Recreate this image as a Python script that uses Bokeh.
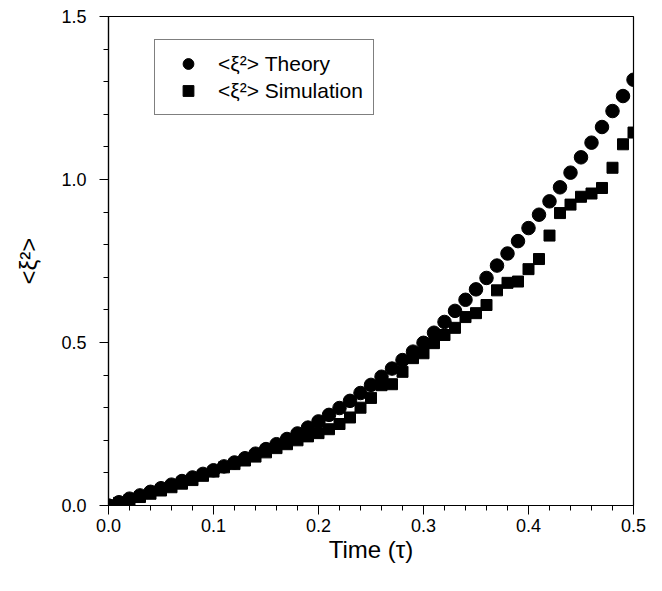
from bokeh.plotting import figure
from bokeh.models import Legend, LegendItem, PrintfTickFormatter, SingleIntervalTicker, Range1d
from bokeh.embed import file_html
from bokeh.resources import INLINE

tau = [round(0.01 * i, 2) for i in range(51)]

theory = [0.000, 0.010, 0.021, 0.031, 0.042, 0.053, 0.064, 0.075, 0.086, 0.097,
          0.108, 0.120, 0.132, 0.145, 0.159, 0.173, 0.188, 0.204, 0.221, 0.239,
          0.258, 0.278, 0.299, 0.321, 0.345, 0.370, 0.395, 0.420, 0.446, 0.472,
          0.499, 0.530, 0.563, 0.597, 0.631, 0.663, 0.698, 0.736, 0.773, 0.811,
          0.851, 0.892, 0.933, 0.976, 1.021, 1.068, 1.113, 1.161, 1.210, 1.256,
          1.306]

simulation = [0.000, 0.008, 0.017, 0.026, 0.036, 0.046, 0.056, 0.067, 0.078, 0.091,
              0.104, 0.117, 0.127, 0.138, 0.150, 0.163, 0.176, 0.188, 0.200, 0.212,
              0.222, 0.234, 0.250, 0.270, 0.300, 0.330, 0.369, 0.372, 0.410, 0.452,
              0.467, 0.498, 0.523, 0.545, 0.578, 0.590, 0.615, 0.660, 0.683, 0.687,
              0.725, 0.756, 0.828, 0.897, 0.923, 0.947, 0.957, 0.974, 1.036, 1.108,
              1.144]

FONT = "Liberation Sans"

p = figure(width=653, height=583, output_backend="svg", toolbar_location=None,
           x_range=Range1d(0.0, 0.5), y_range=Range1d(0.0, 1.5),
           min_border_left=108, min_border_right=20, min_border_top=16, min_border_bottom=78)
p.xgrid.visible = False
p.ygrid.visible = False
p.outline_line_color = "black"
p.outline_line_width = 1.2
p.background_fill_color = "white"
p.border_fill_color = "white"

r1 = p.scatter(tau, theory, marker="circle", size=13.5, color="black")
r2 = p.scatter(tau, simulation, marker="square", size=11, color="black")

for ax in (p.xaxis[0], p.yaxis[0]):
    ax.axis_line_color = "black"
    ax.axis_line_width = 1.2
    ax.major_tick_line_color = "black"
    ax.minor_tick_line_color = "black"
    ax.major_tick_out = 9
    ax.major_tick_in = 0
    ax.minor_tick_out = 5
    ax.minor_tick_in = 0
    ax.major_label_text_font = FONT
    ax.major_label_text_font_size = "18px"
    ax.major_label_text_color = "black"
    ax.axis_label_text_font = FONT
    ax.axis_label_text_font_size = "24px"
    ax.axis_label_text_font_style = "normal"
    ax.axis_label_text_color = "black"
    ax.formatter = PrintfTickFormatter(format="%.1f")

p.xaxis[0].ticker = SingleIntervalTicker(interval=0.1, num_minor_ticks=5)
p.yaxis[0].ticker = SingleIntervalTicker(interval=0.5, num_minor_ticks=5)
p.xaxis[0].axis_label = "Time (τ)"
p.yaxis[0].axis_label = "<ξ²>"
p.xaxis[0].major_label_standoff = 4
p.xaxis[0].axis_label_standoff = 1
p.yaxis[0].major_label_standoff = 13
p.yaxis[0].axis_label_standoff = 16

legend = Legend(items=[LegendItem(label="<ξ²> Theory", renderers=[r1]),
                       LegendItem(label="<ξ²> Simulation", renderers=[r2])],
                location=(46, 390))
legend.border_line_color = "black"
legend.border_line_width = 1.2
legend.background_fill_alpha = 1.0
legend.padding = 10
legend.spacing = 0
legend.glyph_width = 46
legend.glyph_height = 27
legend.label_height = 27
legend.label_standoff = 7
legend.label_text_font = FONT
legend.label_text_font_size = "21px"
legend.label_text_color = "black"
legend.margin = 0
p.add_layout(legend, "center")

open("out.html", "w").write(file_html(p, INLINE))
